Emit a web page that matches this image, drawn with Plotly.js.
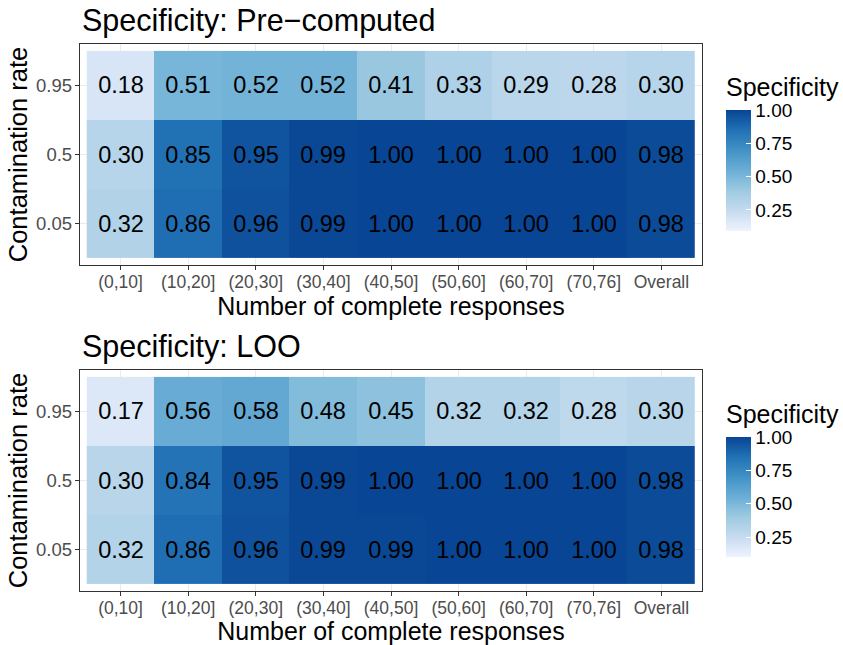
<!DOCTYPE html>
<html>
<head>
<meta charset="utf-8">
<script src="https://cdn.plot.ly/plotly-3.0.1.min.js"></script>
<style>html,body{margin:0;padding:0;background:#fff}#chart{width:843px;height:645px}</style>
</head>
<body>
<div id="chart"></div>
<script>
// ---- data ----
var responseBins = ["(0,10]", "(10,20]", "(20,30]", "(30,40]", "(40,50]", "(50,60]", "(60,70]", "(70,76]", "Overall"];
var contaminationRates = ["0.05", "0.5", "0.95"];
var panelTitles = ["Specificity: Pre\u2212computed", "Specificity: LOO"];
var legendTitle = "Specificity";

// Pre-computed: rows follow contaminationRates order (0.05, 0.5, 0.95)
var precomp005 = [0.32, 0.86, 0.96, 0.99, 1.00, 1.00, 1.00, 1.00, 0.98];
var precomp050 = [0.30, 0.85, 0.95, 0.99, 1.00, 1.00, 1.00, 1.00, 0.98];
var precomp095 = [0.18, 0.51, 0.52, 0.52, 0.41, 0.33, 0.29, 0.28, 0.30];

// LOO
var loo005 = [0.32, 0.86, 0.96, 0.99, 0.99, 1.00, 1.00, 1.00, 0.98];
var loo050 = [0.30, 0.84, 0.95, 0.99, 1.00, 1.00, 1.00, 1.00, 0.98];
var loo095 = [0.17, 0.56, 0.58, 0.48, 0.45, 0.32, 0.32, 0.28, 0.30];

var legendTicks = [0.25, 0.50, 0.75, 1.00];

// ---- style ----
var FONT = "Liberation Sans, Arial, Helvetica, sans-serif";
var blues = [
  [0.0, "#EFF3FF"], [1/6, "#C6DBEF"], [2/6, "#9ECAE1"], [3/6, "#6BAED6"],
  [4/6, "#4292C6"], [5/6, "#2171B5"], [1.0, "#084594"]
];
var CB_X = (726 - 80) / 622;

function cbar(yCenter, lenPx) {
  return {
    thickness: 25, thicknessmode: "pixels",
    len: lenPx, lenmode: "pixels",
    x: CB_X, xanchor: "left", xpad: 0,
    y: 1 - yCenter / 645, yanchor: "middle", ypad: 0,
    outlinewidth: 0, borderwidth: 0,
    tickvals: legendTicks, ticktext: legendTicks.map(function(v){return v.toFixed(2);}),
    ticks: "inside", ticklen: 5, tickcolor: "#ffffff", tickwidth: 1,
    tickfont: {family: FONT, size: 19, color: "#000"}
  };
}

function heat(z, xa, ya, cmin, yCenter, lenPx) {
  return {
    type: "heatmap",
    x: responseBins, y: contaminationRates, z: z,
    xaxis: xa, yaxis: ya,
    colorscale: blues, zmin: cmin, zmax: 1.0,
    texttemplate: "%{z:.2f}",
    textfont: {family: FONT, size: 23.5, color: "#000"},
    hoverinfo: "skip",
    colorbar: cbar(yCenter, lenPx)
  };
}

var traces = [
  heat([precomp005, precomp050, precomp095], "x", "y", 0.092, 170.5, 121),
  heat([loo005, loo050, loo095], "x2", "y2", 0.10, 497, 120)
];

function xax(anchor) {
  return {
    anchor: anchor, domain: [0, 1],
    type: "category", range: [-0.6, 8.6],
    showline: true, mirror: true, linecolor: "#333333", linewidth: 1.2,
    showgrid: true, gridcolor: "#ebebeb", gridwidth: 1,
    zeroline: false,
    ticks: "outside", ticklen: 4, tickcolor: "#333333", tickwidth: 1,
    ticklabelstandoff: -3,
    tickfont: {family: FONT, size: 17.5, color: "#4d4d4d"},
    title: {text: "Number of complete responses", font: {family: FONT, size: 25, color: "#000"}, standoff: 2},
    fixedrange: true
  };
}
function yax(domain, anchor) {
  return {
    anchor: anchor, domain: domain,
    type: "category", range: [-0.6, 2.6],
    showline: true, mirror: true, linecolor: "#333333", linewidth: 1.2,
    showgrid: true, gridcolor: "#ebebeb", gridwidth: 1,
    zeroline: false,
    ticks: "outside", ticklen: 4, tickcolor: "#333333", tickwidth: 1,
    ticklabelstandoff: -1,
    tickfont: {family: FONT, size: 18.5, color: "#4d4d4d"},
    title: {text: "Contamination rate", font: {family: FONT, size: 25.5, color: "#000"}, standoff: 1},
    fixedrange: true
  };
}

function ann(text, x, xanchor, yPx, size) {
  return {text: text, xref: "paper", yref: "paper", x: x, xanchor: xanchor,
          y: 1 - yPx / 645, yanchor: "middle", showarrow: false,
          font: {family: FONT, size: size, color: "#000"}};
}

var layout = {
  width: 843, height: 645,
  margin: {l: 80, r: 141, t: 0, b: 0, pad: 0},
  paper_bgcolor: "#ffffff", plot_bgcolor: "#ffffff",
  font: {family: FONT},
  showlegend: false,
  xaxis: xax("y"),
  yaxis: yax([1 - 265/645, 1 - 44/645], "x"),
  xaxis2: xax("y2"),
  yaxis2: yax([1 - 591/645, 1 - 370/645], "x2"),
  annotations: [
    ann(panelTitles[0], 0, "left", 20, 30.5),
    ann(panelTitles[1], 0, "left", 346, 30.5),
    ann(legendTitle, CB_X - 2/622, "left", 86.5, 25),
    ann(legendTitle, CB_X - 2/622, "left", 413.5, 25)
  ]
};

Plotly.newPlot("chart", traces, layout, {displayModeBar: false, staticPlot: true});
</script>
</body>
</html>
